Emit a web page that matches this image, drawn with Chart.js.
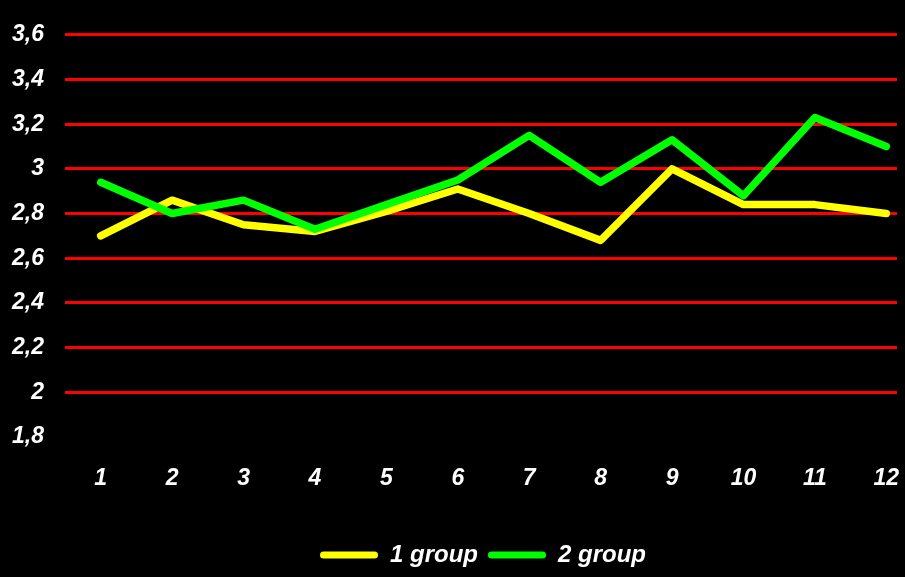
<!DOCTYPE html>
<html>
<head>
<meta charset="utf-8">
<script src="https://cdn.jsdelivr.net/npm/chart.js@4/dist/chart.umd.min.js"></script>
<style>
  html, body { margin: 0; padding: 0; background: #000; overflow: hidden; }
  #wrap { width: 905px; height: 577px; overflow: hidden; position: relative; }
  canvas { display: block; }
</style>
</head>
<body>
<div id="wrap"><canvas id="c" width="966" height="577"></canvas></div>
<script>
// Survey means per session for the two groups
const categories = ['1', '2', '3', '4', '5', '6', '7', '8', '9', '10', '11', '12'];
const group1 = [2.70, 2.86, 2.75, 2.72, 2.81, 2.91, 2.80, 2.68, 3.00, 2.84, 2.84, 2.80];
const group2 = [2.94, 2.80, 2.86, 2.73, 2.84, 2.95, 3.15, 2.94, 3.13, 2.88, 3.23, 3.10];
const seriesNames = ['1 group', '2 group'];
const seriesColors = ['#ffff00', '#00ff00'];
const yTicks = [1.8, 2.0, 2.2, 2.4, 2.6, 2.8, 3.0, 3.2, 3.4, 3.6];

const tickFont = { family: 'Liberation Sans, Arial, sans-serif', size: 23, weight: 'bold', style: 'italic' };

const toPoints = arr => arr.map((v, i) => ({ x: i + 1, y: v }));

// The legend is centred on the full canvas width rather than the plot area
const legendShift = {
  id: 'legendShift',
  afterLayout(chart) {
    const lg = chart.legend;
    if (!lg) return;
    const d = chart.width / 2 - (lg.left + lg.right) / 2;
    lg.left += d;
    lg.right += d;
  }
};

new Chart(document.getElementById('c'), {
  type: 'line',
  data: {
    datasets: [
      {
        label: seriesNames[0],
        data: toPoints(group1),
        borderColor: seriesColors[0],
        backgroundColor: seriesColors[0],
        borderWidth: 7.5,
        pointRadius: 0,
        tension: 0,
        borderCapStyle: 'round',
        borderJoinStyle: 'round',
        order: 2
      },
      {
        label: seriesNames[1],
        data: toPoints(group2),
        borderColor: seriesColors[1],
        backgroundColor: seriesColors[1],
        borderWidth: 7.5,
        pointRadius: 0,
        tension: 0,
        borderCapStyle: 'round',
        borderJoinStyle: 'round',
        order: 1
      }
    ]
  },
  plugins: [legendShift],
  options: {
    responsive: false,
    animation: false,
    devicePixelRatio: 1,
    layout: { padding: { left: 0, right: 69, top: 20, bottom: 0 } },
    scales: {
      x: {
        type: 'linear',
        min: 0.5,
        max: 12.15,
        grid: { display: false, drawTicks: false },
        border: { display: false },
        afterBuildTicks: s => { s.ticks = categories.map((c, i) => ({ value: i + 1 })); },
        afterFit: s => { s.height = 96; },
        ticks: {
          color: '#ffffff',
          font: tickFont,
          padding: 28,
          maxRotation: 0,
          autoSkip: false,
          callback: (v) => categories[v - 1]
        }
      },
      y: {
        min: 1.8,
        max: 3.6,
        grid: {
          drawTicks: false,
          lineWidth: 3,
          color: ctx => (ctx.tick && Math.abs(ctx.tick.value - 1.8) < 1e-6) ? 'rgba(0,0,0,0)' : '#ff0000'
        },
        border: { display: false },
        afterBuildTicks: s => { s.ticks = yTicks.map(v => ({ value: v })); },
        afterFit: s => { s.width = 65; },
        ticks: {
          color: '#ffffff',
          font: tickFont,
          padding: 21,
          callback: v => String(Math.round(v * 10) / 10).replace('.', ',')
        }
      }
    },
    plugins: {
      tooltip: { enabled: false },
      legend: {
        display: true,
        position: 'bottom',
        labels: {
          color: '#ffffff',
          font: { family: 'Liberation Sans, Arial, sans-serif', size: 24, weight: 'bold', style: 'italic' },
          boxWidth: 58,
          boxHeight: 7,
          padding: 10,
          useBorderRadius: true,
          borderRadius: 3.5,
          generateLabels: chart => chart.data.datasets.map((ds, i) => ({
            text: ds.label,
            fillStyle: seriesColors[i],
            strokeStyle: seriesColors[i],
            lineWidth: 0,
            fontColor: '#ffffff',
            hidden: false,
            datasetIndex: i,
            borderRadius: 3.5
          }))
        }
      }
    }
  }
});
</script>
</body>
</html>
